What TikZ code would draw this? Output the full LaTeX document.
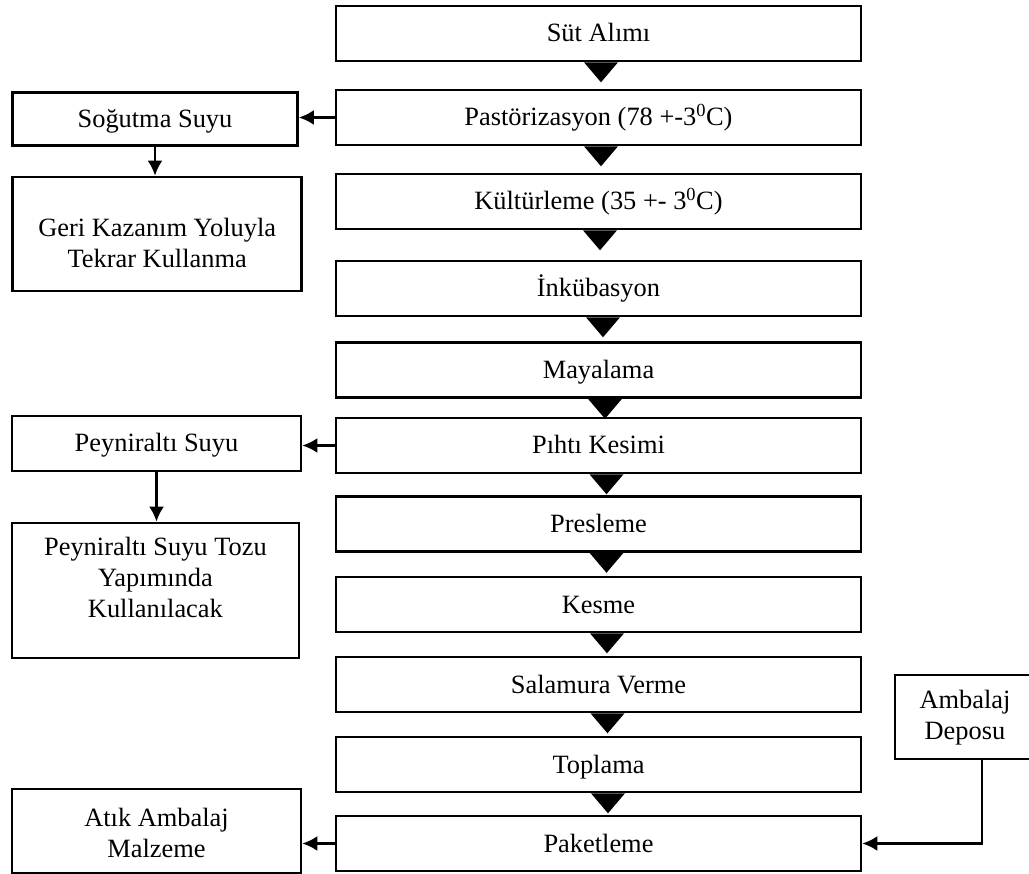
\documentclass[tikz,border=0pt]{standalone}
\usepackage{fontspec}
\setmainfont{Liberation Serif}
\usetikzlibrary{arrows.meta,positioning,calc}
\begin{document}
\begin{tikzpicture}[x=1pt,y=-1pt,
  every node/.style={font=\fontsize{26.4}{31}\selectfont},
  mainbox/.style={draw,line width=2.6pt,minimum width=525pt,minimum height=55pt,inner sep=0pt,align=center,text height=20pt,text depth=3pt},
  sidebox/.style={draw,line width=2.6pt,inner sep=0pt,align=center},
  oneline/.style={text height=20pt,text depth=3pt},
  conn/.style={line width=2.6pt,-{Latex[length=15pt,width=15pt]}},
  tri/.style={fill=black}
]
\clip (0,0) rectangle (1029,874);
\useasboundingbox (0,0) rectangle (1029,874);
% main column
\node[mainbox] (m1) at (598.5,33.5) {Süt Alımı};
\node[mainbox] (m2) at (598.5,117.5) {Pastörizasyon (78 +-3\textsuperscript{0}C)};
\node[mainbox] (m3) at (598.5,201.5) {Kültürleme (35 +- 3\textsuperscript{0}C)};
\node[mainbox] (m4) at (598.5,288.5) {İnkübasyon};
\node[mainbox] (m5) at (598.5,370) {Mayalama};
\node[mainbox] (m6) at (598.5,445.5) {Pıhtı Kesimi};
\node[mainbox] (m7) at (598.5,524) {Presleme};
\node[mainbox] (m8) at (598.5,604.5) {Kesme};
\node[mainbox] (m9) at (598.5,684.5) {Salamura Verme};
\node[mainbox] (m10) at (598.5,764.5) {Toplama};
\node[mainbox] (m11) at (598.5,843.5) {Paketleme};
% side boxes
\node[sidebox,oneline,minimum width=285pt,minimum height=53pt] (s1) at (155,119.2) {Soğutma Suyu};
\node[sidebox,minimum width=289pt,minimum height=114pt] (s2) at (157.2,234) {\rule{0pt}{36pt}Geri Kazanım Yoluyla\\Tekrar Kullanma};
\node[sidebox,oneline,minimum width=289pt,minimum height=55pt] (p1) at (156.5,443.5) {Peyniraltı Suyu};
\node[sidebox,minimum width=287pt,minimum height=135pt] (p2) at (155.4,590.5) {Peyniraltı Suyu Tozu\\Yapımında\\Kullanılacak\rule[-26pt]{0pt}{1pt}};
\node[sidebox,minimum width=289pt,minimum height=84pt] (a1) at (156.5,831) {\rule{0pt}{22pt}Atık Ambalaj\\Malzeme};
\node[sidebox,minimum width=140pt,minimum height=84pt] (d1) at (965,717) {\rule{0pt}{20pt}Ambalaj\\Deposu};
% triangles between main steps
\foreach \n/\dx in {m1/2.5,m2/2.5,m3/1.5,m4/4.5,m5/6.5,m6/8,m7/8,m8/8.5,m9/9,m10/9.5}{
  \fill ([xshift=\dx pt-17pt]\n.south) -- ([xshift=\dx pt+17pt]\n.south) -- ([xshift=\dx pt, yshift=-20pt]\n.south) -- cycle;
}
% side connectors
\draw[conn] (m2.west) -- (m2.west -| s1.east);
\draw[conn] (s1.south) -- (s1.south |- s2.north);
\draw[conn] (m6.west) -- (m6.west -| p1.east);
\draw[conn] (p1.south) -- (p1.south |- p2.north);
\draw[conn] (m11.west) -- (m11.west -| a1.east);
\draw[conn] ([xshift=17pt]d1.south) |- (m11.east);
\end{tikzpicture}
\end{document}
